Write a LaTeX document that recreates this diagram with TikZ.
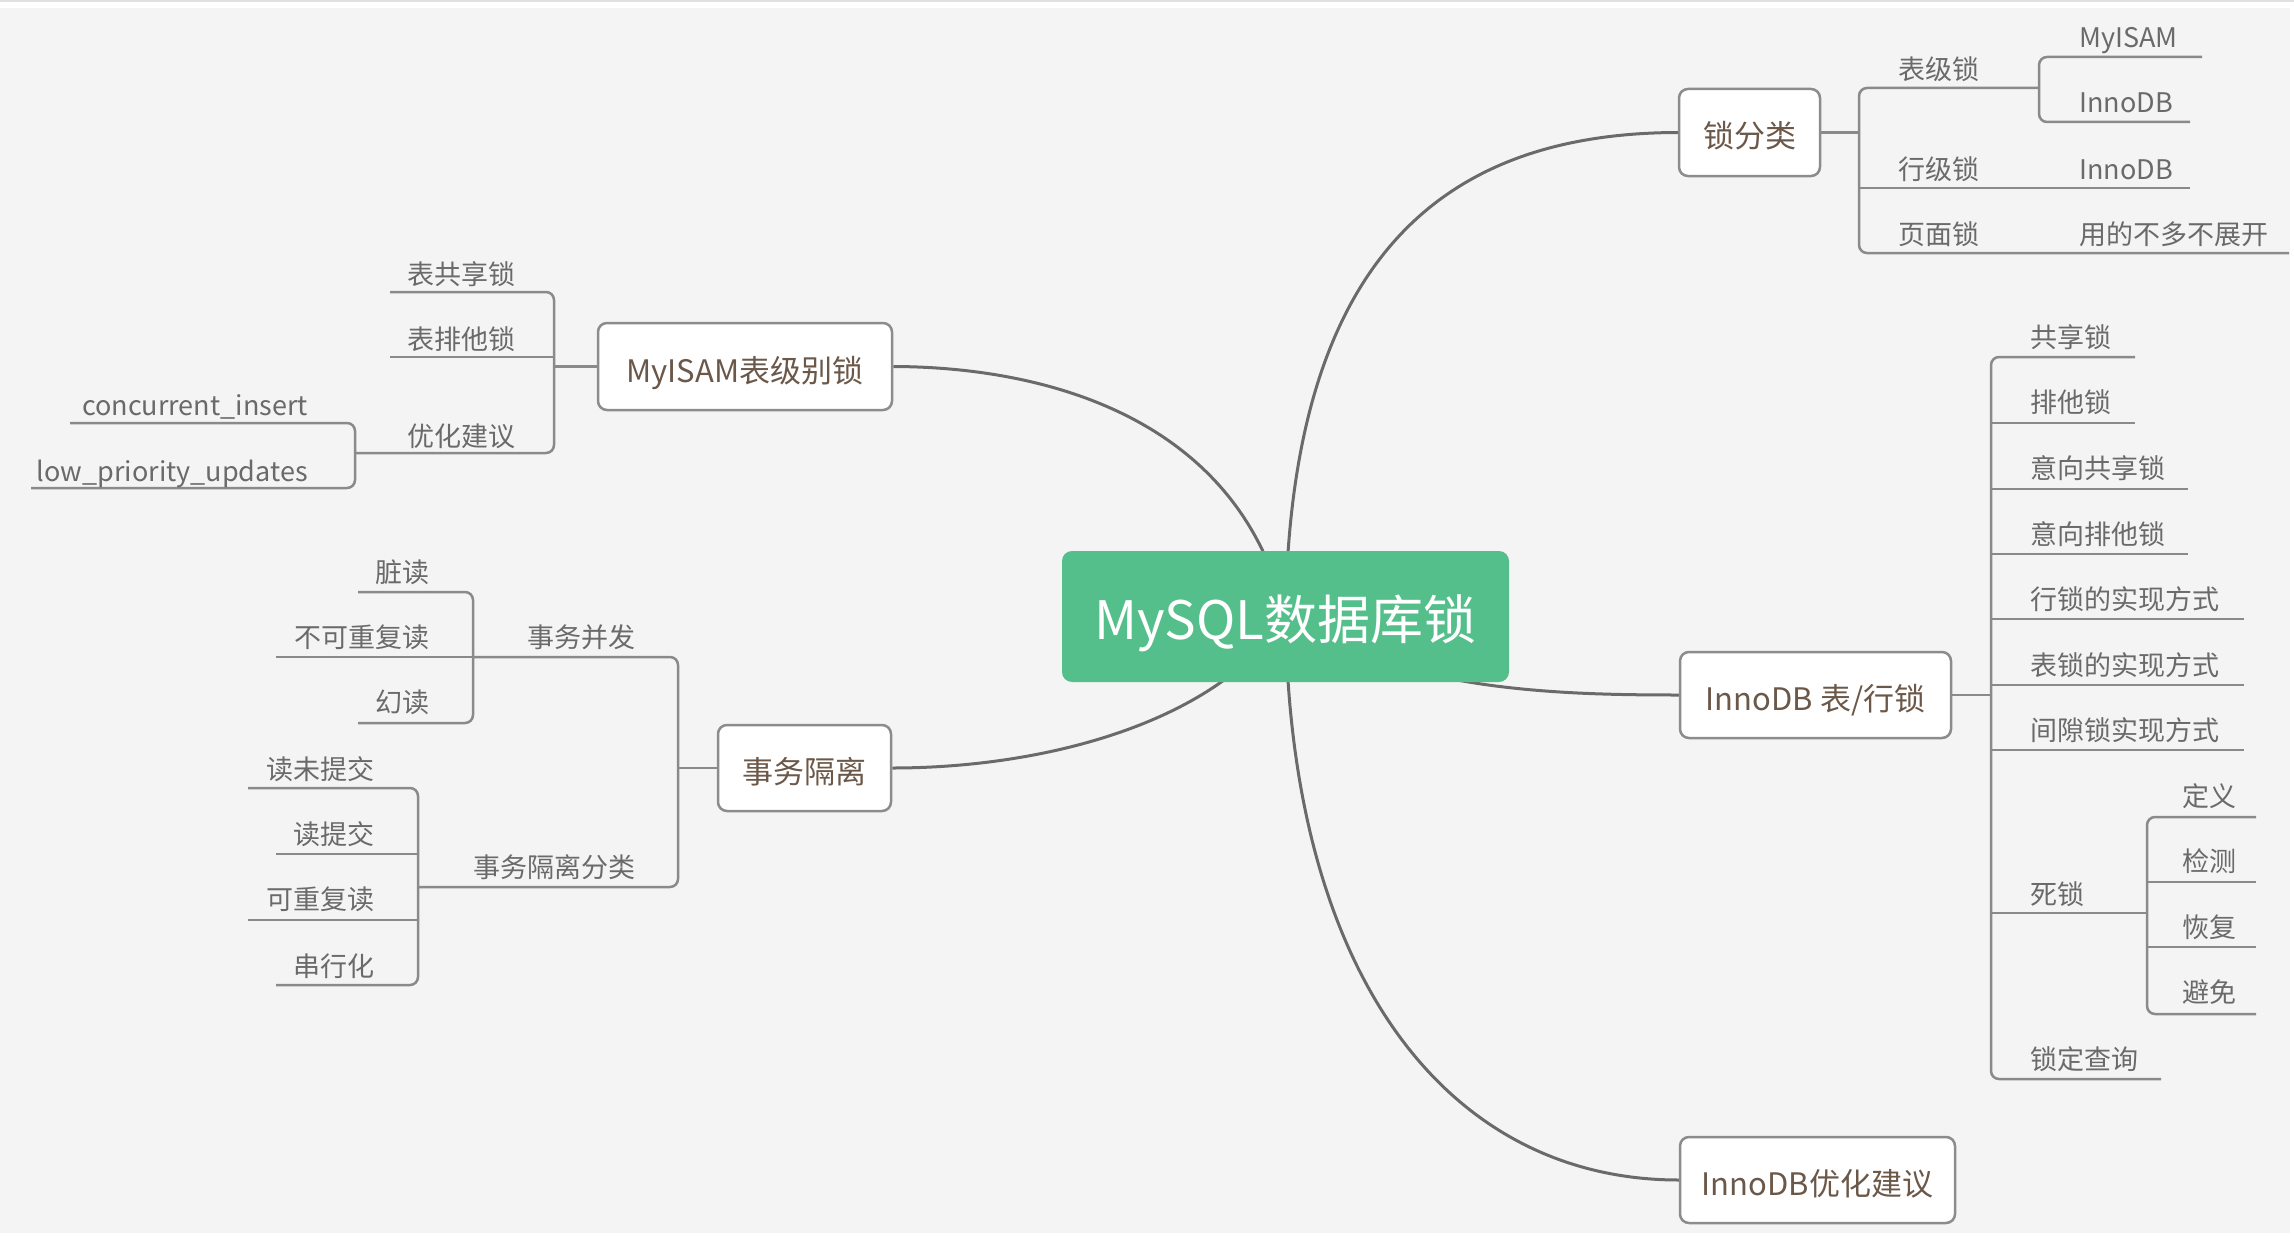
\documentclass[tikz,border=0pt]{standalone}
\usepackage{fontspec}
\setmainfont{Noto Sans CJK SC}
\definecolor{bgc}{HTML}{F4F4F4}
\definecolor{edgec}{HTML}{6A6A6A}
\definecolor{linec}{HTML}{8A8A8A}
\definecolor{leaftext}{HTML}{6A6A6A}
\definecolor{boxtext}{HTML}{6B5849}
\definecolor{rootc}{HTML}{55BF8B}
\definecolor{boxline}{HTML}{8C8C8C}
\pgfdeclarelayer{back}
\pgfdeclarelayer{edges}
\pgfsetlayers{back,edges,main}
\tikzset{
  rootbox/.style={fill=rootc, rounded corners=10pt, text=white, font=\fontsize{53}{60}\selectfont, inner sep=0pt, text height=45pt, text depth=0pt},
  topicbox/.style={draw=boxline, line width=2.5pt, fill=white, rounded corners=9pt, text=boxtext, font=\fontsize{31}{36}\selectfont, inner sep=0pt, text height=31pt, text depth=0pt},
  leaf/.style={text=leaftext, font=\fontsize{27}{32}\selectfont, inner sep=0pt, text height=0.8em, text depth=0.1em, yshift=-6pt},
  branch/.style={draw=linec, line width=2.5pt, rounded corners=8pt},
  curve/.style={draw=edgec, line width=3pt},
}
\begin{document}
\begin{tikzpicture}[x=1pt,y=-1pt]
\useasboundingbox (0,0) rectangle (2294,1236);
\begin{pgfonlayer}{back}
  \fill[white] (0,0) rectangle (2294,1236);
  \fill[bgc] (0,8) rectangle (2290,1233);
  \draw[draw=black!12, line width=2pt] (0,1) -- (2294,1);
\end{pgfonlayer}

% root and topics
\node[rootbox, minimum width=447pt, minimum height=131pt] (root) at (1285.5,616.5) {MySQL数据库锁};
\node[topicbox, minimum width=141pt, minimum height=87pt] (fenlei) at (1749.5,132.5) {锁分类};
\node[topicbox, minimum width=271pt, minimum height=86pt] (innotr) at (1815.5,695) {InnoDB 表/行锁};
\node[topicbox, minimum width=275pt, minimum height=86pt] (innoopt) at (1817.5,1180) {InnoDB优化建议};
\node[topicbox, minimum width=294pt, minimum height=87pt] (myisam) at (745,366.5) {MyISAM表级别锁};
\node[topicbox, minimum width=173pt, minimum height=86pt] (shiwu) at (804.5,768) {事务隔离};

% ---------- 锁分类 ----------
\node[leaf, anchor=west] (biaoji) at (1898,70) {表级锁};
\node[leaf, anchor=west] (lmyisam) at (2079,38) {MyISAM};
\node[leaf, anchor=west] (linnoa) at (2079,103) {InnoDB};
\node[leaf, anchor=west] (hangji) at (1898,170) {行级锁};
\node[leaf, anchor=west] (linnob) at (2079,170) {InnoDB};
\node[leaf, anchor=west] (yemian) at (1898,235) {页面锁};
\node[leaf, anchor=west] (lyong) at (2079,235) {用的不多不展开};

% ---------- InnoDB 表/行锁 ----------
\node[leaf, anchor=west] (gx) at (2030,338) {共享锁};
\node[leaf, anchor=west] (pt) at (2030,403) {排他锁};
\node[leaf, anchor=west] (yxgx) at (2030,469) {意向共享锁};
\node[leaf, anchor=west] (yxpt) at (2030,535) {意向排他锁};
\node[leaf, anchor=west] (hssx) at (2030,600) {行锁的实现方式};
\node[leaf, anchor=west] (bssx) at (2030,666) {表锁的实现方式};
\node[leaf, anchor=west] (jxsx) at (2030,731) {间隙锁实现方式};
\node[leaf, anchor=west] (sisuo) at (2030,895) {死锁};
\node[leaf, anchor=west] (dingyi) at (2182,797) {定义};
\node[leaf, anchor=west] (jiance) at (2182,862) {检测};
\node[leaf, anchor=west] (huifu) at (2182,928) {恢复};
\node[leaf, anchor=west] (bimian) at (2182,993) {避免};
\node[leaf, anchor=west] (sdcx) at (2030,1060) {锁定查询};

% ---------- MyISAM表级别锁 ----------
\node[leaf, anchor=east] (bgxs) at (516,275) {表共享锁};
\node[leaf, anchor=east] (bpts) at (516,340) {表排他锁};
\node[leaf, anchor=east] (yhjy) at (516,437) {优化建议};
\node[leaf, anchor=east] (ccins) at (308,406) {concurrent\_insert};
\node[leaf, anchor=east] (lowp) at (308,472) {low\_priority\_updates};

% ---------- 事务隔离 ----------
\node[leaf, anchor=east] (swbf) at (636,638) {事务并发};
\node[leaf, anchor=east] (swfl) at (636,868) {事务隔离分类};
\node[leaf, anchor=east] (zangdu) at (430,573) {脏读};
\node[leaf, anchor=east] (bkcf) at (430,638) {不可重复读};
\node[leaf, anchor=east] (huandu) at (430,703) {幻读};
\node[leaf, anchor=east] (dwtj) at (375,770) {读未提交};
\node[leaf, anchor=east] (dtj) at (375,835) {读提交};
\node[leaf, anchor=east] (kcfd) at (375,900) {可重复读};
\node[leaf, anchor=east] (cxh) at (375,967) {串行化};

\begin{pgfonlayer}{edges}
  % main curves
  \draw[curve] (root.center) .. controls (1290,250) and (1450,133) .. (fenlei.west);
  \draw[curve] (root.center) .. controls (1400,690) and (1550,695) .. (innotr.west);
  \draw[curve] (root.center) .. controls (1290,980) and (1450,1180) .. (innoopt.west);
  \draw[curve] (root.center) .. controls (1240,420) and (1050,367) .. (myisam.east);
  \draw[curve] (root.center) .. controls (1220,720) and (1050,768) .. (shiwu.east);

  % 锁分类 branches
  \draw[branch] (fenlei.east) -- (1859,132.5);
  \draw[branch] (2039,88) -- (1859,88) -- (1859,253) -- (2289,253);
  \draw[branch] (2202,57) -- (2039,57) -- (2039,122) -- (2190,122);
  \draw[branch] (1859,188) -- (2190,188);

  % InnoDB 表/行锁 branches
  \draw[branch] (innotr.east) -- (1991,695);
  \draw[branch] (2135,357) -- (1991,357) -- (1991,1079) -- (2161,1079);
  \draw[branch] (1991,423) -- (2135,423);
  \draw[branch] (1991,489) -- (2188,489);
  \draw[branch] (1991,554) -- (2188,554);
  \draw[branch] (1991,619) -- (2244,619);
  \draw[branch] (1991,685) -- (2244,685);
  \draw[branch] (1991,750) -- (2244,750);
  \draw[branch] (1991,913) -- (2147,913);
  \draw[branch] (2256,817) -- (2147,817) -- (2147,1014) -- (2256,1014);
  \draw[branch] (2147,882) -- (2256,882);
  \draw[branch] (2147,947) -- (2256,947);

  % MyISAM branches
  \draw[branch] (myisam.west) -- (554,366.5);
  \draw[branch] (390,292) -- (554,292) -- (554,453) -- (355,453);
  \draw[branch] (390,357) -- (554,357);
  \draw[branch] (70,423) -- (355,423) -- (355,488) -- (31,488);

  % 事务隔离 branches
  \draw[branch] (shiwu.west) -- (678,768);
  \draw[branch] (473,657) -- (678,657) -- (678,887) -- (418,887);
  \draw[branch] (358,592) -- (473,592) -- (473,723) -- (358,723);
  \draw[branch] (473,657) -- (276,657);
  \draw[branch] (248,788) -- (418,788) -- (418,985) -- (276,985);
  \draw[branch] (418,854) -- (276,854);
  \draw[branch] (418,920) -- (248,920);
\end{pgfonlayer}
\end{tikzpicture}
\end{document}
